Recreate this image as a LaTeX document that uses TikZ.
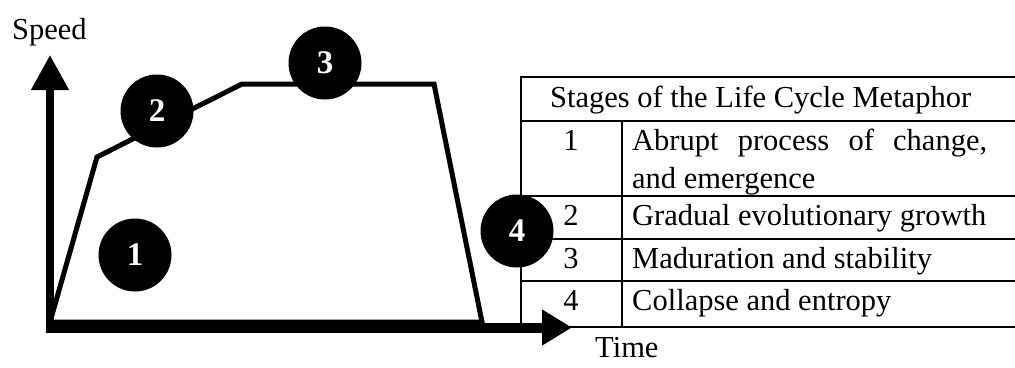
\documentclass[tikz,border=0pt]{standalone}
\usepackage{fontspec}
\setmainfont{Liberation Serif}
\usetikzlibrary{arrows.meta}
\begin{document}
\begin{tikzpicture}[x=1pt,y=-1pt,
  lbl/.style={font=\fontsize{30.5}{36}\selectfont, inner sep=0pt},
  stage/.style={circle, fill=black, minimum size=73pt, inner sep=0pt,
    text=white, font=\fontsize{33}{36}\selectfont\bfseries},
  rule/.style={line width=2pt},
  curve/.style={line width=5pt, line join=miter},
  yaxis/.style={line width=7.5pt, -{Triangle[length=35pt,width=36pt]}},
  xaxis/.style={line width=10pt, -{Triangle[length=30pt,width=34pt]}}
]
\useasboundingbox (0,0) rectangle (1015,367);

% table of stages
\draw[rule] (521,77) -- (1016,77);
\draw[rule] (521,121) -- (1016,121);
\draw[rule] (521,196) -- (1016,196);
\draw[rule] (521,239) -- (1016,239);
\draw[rule] (521,281) -- (1016,281);
\draw[rule] (521,327) -- (1016,327);
\draw[rule] (521,76) -- (521,328);
\draw[rule] (622,120) -- (622,328);

\node[lbl, anchor=base west] (head) at (550,107) {Stages of the Life Cycle Metaphor};
\node[lbl, anchor=base] (n1) at (571,150) {1};
\node[lbl, anchor=base west] (d1a) at (632,150) {\makebox[355pt][s]{Abrupt process of change,}};
\node[lbl, anchor=base west] (d1b) at (632,188) {and emergence};
\node[lbl, anchor=base] (n2) at (571,225) {2};
\node[lbl, anchor=base west] (d2) at (632,225) {Gradual evolutionary growth};
\node[lbl, anchor=base] (n3) at (571,268) {3};
\node[lbl, anchor=base west] (d3) at (632,268) {Maduration and stability};
\node[lbl, anchor=base] (n4) at (571,310) {4};
\node[lbl, anchor=base west] (d4) at (632,310) {Collapse and entropy};

% life cycle curve
\coordinate (O) at (50,322);
\coordinate (P1) at (97,157);
\coordinate (P2) at (242,84);
\coordinate (P3) at (434,84);
\coordinate (P4) at (482,322);
\draw[curve] (O) -- (P1) -- (P2) -- (P3) -- (P4) -- cycle;

% axes
\coordinate (ybase) at (50,333);
\coordinate (ytip) at (50,55);
\coordinate (xbase) at (46,327.5);
\coordinate (xtip) at (572,327.5);
\draw[yaxis] (ybase) -- (ytip);
\draw[xaxis] (xbase) -- (xtip);

\node[lbl, anchor=base west] (speed) at (12,39) {Speed};
\node[lbl, anchor=base west] (time) at (595,357) {Time};

% stage markers
\node[stage] (s1) at (135,255) {1};
\node[stage] (s2) at (157,111) {2};
\node[stage] (s3) at (325,63) {3};
\node[stage] (s4) at (517,231) {4};
\end{tikzpicture}
\end{document}
